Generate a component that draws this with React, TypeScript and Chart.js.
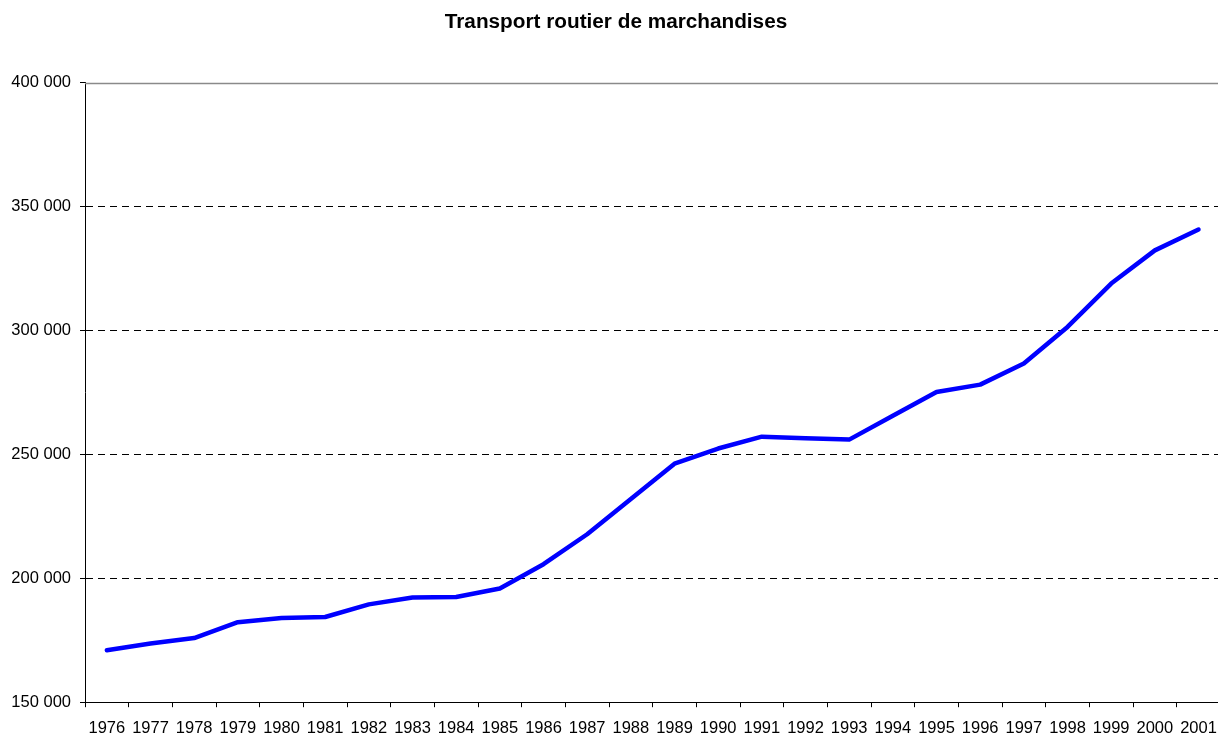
import React, { useEffect, useRef } from "react";
import { Chart, registerables } from "chart.js";

Chart.register(...registerables);

const TITLE = "Transport routier de marchandises";
const YEARS = [
  "1976", "1977", "1978", "1979", "1980", "1981", "1982", "1983", "1984",
  "1985", "1986", "1987", "1988", "1989", "1990", "1991", "1992", "1993",
  "1994", "1995", "1996", "1997", "1998", "1999", "2000", "2001",
];
const VALUES = [
  171000, 173700, 175900, 182300, 184000, 184400, 189500, 192300, 192500,
  195900, 205700, 217800, 232000, 246300, 252400, 257200, 256600, 256000,
  265600, 275200, 278200, 286700, 301500, 319000, 332400, 340800,
];
const Y_MIN = 150000;
const Y_MAX = 400000;
const Y_STEP = 50000;

const FONT = "'Liberation Sans', Arial, Helvetica, sans-serif";

const fmt = (v: number) =>
  String(Math.round(v)).replace(/\B(?=(\d{3})+(?!\d))/g, " ");

const topLinePlugin = {
  id: "topLine",
  beforeDatasetsDraw(chart: any) {
    const { ctx, chartArea } = chart;
    const y = Math.round(chart.scales.y.getPixelForValue(Y_MAX)) + 0.5;
    ctx.save();
    ctx.strokeStyle = "#8a8a8a";
    ctx.lineWidth = 1.5;
    ctx.beginPath();
    ctx.moveTo(chartArea.left, y);
    ctx.lineTo(chartArea.right, y);
    ctx.stroke();
    ctx.restore();
  },
};

export default function App() {
  const ref = useRef<HTMLCanvasElement | null>(null);

  useEffect(() => {
    if (!ref.current) return;
    const chart = new Chart(ref.current, {
      type: "line",
      data: {
        labels: YEARS,
        datasets: [
          {
            data: VALUES,
            borderColor: "#0000ff",
            backgroundColor: "#0000ff",
            borderWidth: 4.5,
            pointRadius: 0,
            tension: 0,
            borderCapStyle: "round",
            borderJoinStyle: "round",
            fill: false,
          },
        ],
      },
      options: {
        animation: false,
        responsive: false,
        devicePixelRatio: 1,
        layout: { padding: { left: 11, right: 7, top: 0, bottom: 0 } },
        plugins: {
          legend: { display: false },
          tooltip: { enabled: false },
          title: {
            display: true,
            text: TITLE,
            color: "#000",
            font: { family: FONT, size: 20.75, weight: "bold" },
            padding: { top: 10, bottom: 48 },
          },
        },
        scales: {
          x: {
            type: "category",
            offset: true,
            grid: {
              display: true,
              offset: true,
              drawOnChartArea: false,
              drawTicks: true,
              tickLength: 5,
              tickColor: "#000",
              tickWidth: 1,
            },
            border: { display: true, color: "#000", width: 1 },
            ticks: {
              color: "#000",
              font: { family: FONT, size: 16.5 },
              maxRotation: 0,
              minRotation: 0,
              autoSkip: false,
              padding: 11,
            },
          },
          y: {
            min: Y_MIN,
            max: Y_MAX,
            afterFit: (scale: any) => {
              scale.width = 74;
            },
            grid: {
              display: true,
              drawTicks: true,
              tickLength: 5,
              tickColor: "#000",
              tickWidth: 1,
              tickBorderDash: [],
              lineWidth: 1,
              color: (ctx: any) =>
                ctx.tick && (ctx.tick.value === Y_MIN || ctx.tick.value === Y_MAX)
                  ? "rgba(0,0,0,0)"
                  : "#000",
            },
            border: { display: true, color: "#000", width: 1, dash: [7, 5] },
            ticks: {
              stepSize: Y_STEP,
              color: "#000",
              font: { family: FONT, size: 16.5 },
              padding: 9,
              callback: (v: any) => fmt(Number(v)),
            },
          },
        },
      },
      plugins: [topLinePlugin],
    } as any);
    return () => chart.destroy();
  }, []);

  return (
    <div
      style={{
        position: "fixed",
        left: 0,
        top: 0,
        width: 1218,
        height: 733,
        overflow: "hidden",
        background: "#fff",
      }}
    >
      <canvas ref={ref} width={1228} height={749} style={{ display: "block" }} />
    </div>
  );
}
